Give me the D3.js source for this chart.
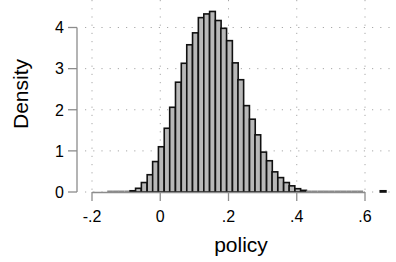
<!DOCTYPE html>
<html>
<head>
<meta charset="utf-8">
<script src="https://cdn.jsdelivr.net/npm/d3@7"></script>
<style>
  body { margin: 0; background: #fff; }
  text { font-family: "Liberation Sans", Arial, Helvetica, sans-serif; fill: #000; }
</style>
</head>
<body>
<div id="chart"></div>
<script>
// histogram of policy: bin centres and density per bin
var binCenters = [-0.147, -0.130, -0.114, -0.097, -0.080, -0.064, -0.047, -0.030, -0.014,
    0.003, 0.020, 0.036, 0.053, 0.070, 0.086, 0.103, 0.120, 0.136, 0.153,
    0.170, 0.186, 0.203, 0.220, 0.236, 0.253, 0.270, 0.286, 0.303, 0.320,
    0.336, 0.353, 0.370, 0.386, 0.403, 0.420, 0.436, 0.453, 0.470, 0.486,
    0.503, 0.520, 0.536, 0.553, 0.570, 0.586, 0.653];
var density = [0.006, 0.006, 0.004, 0.004, 0.03, 0.09, 0.23, 0.42, 0.74,
    1.10, 1.55, 2.06, 2.67, 3.13, 3.58, 3.87, 4.24, 4.33, 4.39,
    4.17, 3.98, 3.68, 3.14, 2.73, 2.10, 1.77, 1.39, 0.97, 0.76,
    0.49, 0.35, 0.23, 0.15, 0.08, 0.04, 0.006, 0.006, 0.006, 0.006,
    0.006, 0.006, 0.006, 0.006, 0.003, 0.003, 0.03];
var binWidth = 1 / 60;
var xTicks = [-0.2, 0, 0.2, 0.4, 0.6];
var xTickLabels = ["-.2", "0", ".2", ".4", ".6"];
var yTicks = [0, 1, 2, 3, 4];

var width = 396,
    height = 262,
    svg = d3.select("#chart")
        .append("svg")
        .attr("width", width)
        .attr("height", height);

var x = d3.scaleLinear().domain([-0.2, 0.6]).range([92, 365]);
var y = d3.scaleLinear().domain([0, 4]).range([192, 27.5]);

// dotted grid
svg.selectAll("line.hgrid").data(yTicks).enter()
    .append("line")
    .attr("x1", 85).attr("x2", width)
    .attr("y1", function(d) { return y(d); })
    .attr("y2", function(d) { return y(d); })
    .attr("stroke", "#a8a8a8")
    .attr("stroke-width", 1)
    .attr("stroke-dasharray", "1.2,7");

svg.selectAll("line.vgrid").data(xTicks).enter()
    .append("line")
    .attr("x1", function(d) { return x(d); })
    .attr("x2", function(d) { return x(d); })
    .attr("y1", 0).attr("y2", y(0))
    .attr("stroke", "#a8a8a8")
    .attr("stroke-width", 1)
    .attr("stroke-dasharray", "1.2,7");

// bars (near-zero bins show only as a thin grey line)
var bins = binCenters.map(function(c, i) { return {c: c, d: density[i]}; });
var px = x(binWidth) - x(0);

svg.selectAll("rect.bar").data(bins).enter()
    .append("rect")
    .attr("x", function(d) { return x(d.c - binWidth / 2); })
    .attr("width", px)
    .attr("y", function(d) {
        return d.d < 0.01 ? y(0) - 1.5 : y(d.d);
    })
    .attr("height", function(d) {
        return d.d < 0.01 ? 2 : y(0) - y(d.d);
    })
    .attr("fill", function(d) { return d.d < 0.01 ? "#8a8a8a" : "#b8b8b8"; })
    .attr("stroke", function(d) { return d.d < 0.01 ? "none" : "#111"; })
    .attr("stroke-width", 1.6);

// axes
var axisColor = "#8c8c8c";
svg.append("line")
    .attr("x1", 77).attr("x2", 77)
    .attr("y1", y(0)).attr("y2", y(4))
    .attr("stroke", axisColor).attr("stroke-width", 1.3);
svg.selectAll("line.ytick").data(yTicks).enter()
    .append("line")
    .attr("x1", 68).attr("x2", 77)
    .attr("y1", function(d) { return y(d); })
    .attr("y2", function(d) { return y(d); })
    .attr("stroke", axisColor).attr("stroke-width", 1.3);
svg.selectAll("text.ylab").data(yTicks).enter()
    .append("text")
    .text(function(d) { return d; })
    .attr("x", 64)
    .attr("y", function(d) { return y(d); })
    .attr("dy", "0.36em")
    .attr("text-anchor", "end")
    .attr("font-size", "16px");

svg.append("line")
    .attr("x1", x(-0.2)).attr("x2", x(0.6))
    .attr("y1", y(0) + 0.5).attr("y2", y(0) + 0.5)
    .attr("stroke", axisColor).attr("stroke-width", 1.3);
svg.selectAll("line.xtick").data(xTicks).enter()
    .append("line")
    .attr("x1", function(d) { return x(d); })
    .attr("x2", function(d) { return x(d); })
    .attr("y1", y(0)).attr("y2", y(0) + 9)
    .attr("stroke", axisColor).attr("stroke-width", 1.3);
svg.selectAll("text.xlab").data(xTicks).enter()
    .append("text")
    .text(function(d, i) { return xTickLabels[i]; })
    .attr("x", function(d) { return x(d); })
    .attr("y", 222)
    .attr("text-anchor", "middle")
    .attr("font-size", "16px");

// titles
svg.append("text")
    .text("policy")
    .attr("x", 241)
    .attr("y", 252)
    .attr("text-anchor", "middle")
    .attr("font-size", "21px");
svg.append("text")
    .text("Density")
    .attr("transform", "translate(28,94) rotate(-90)")
    .attr("text-anchor", "middle")
    .attr("font-size", "21px");
</script>
</body>
</html>
